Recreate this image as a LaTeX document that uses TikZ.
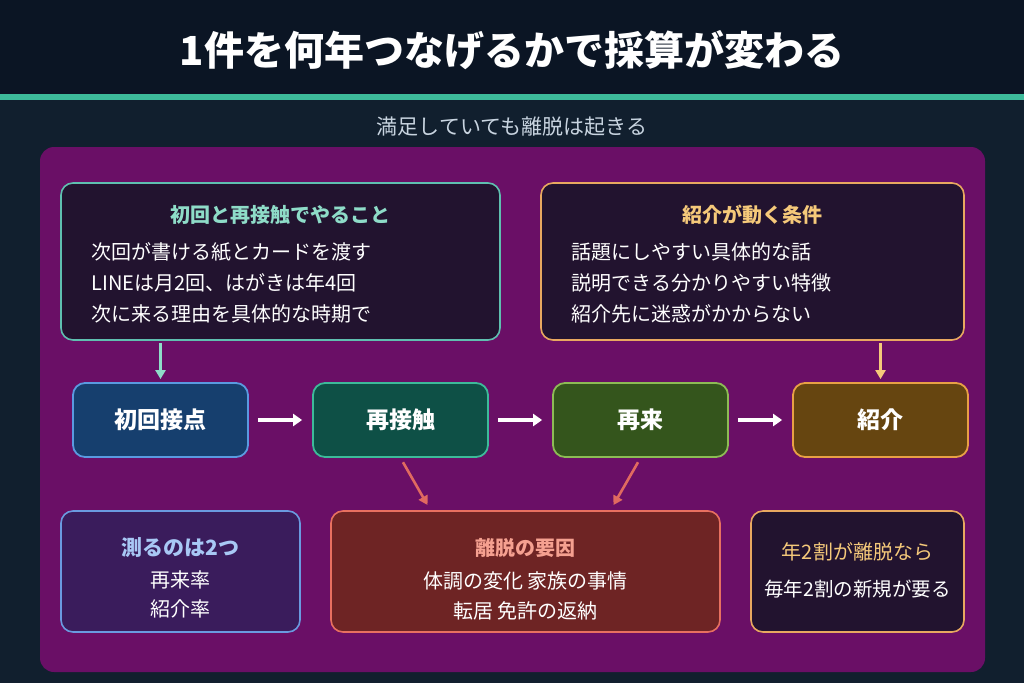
\documentclass[tikz,border=0pt]{standalone}
\usepackage{fontspec}
\setmainfont{Noto Sans CJK JP}
\usepackage{tikz}
\usetikzlibrary{arrows.meta, positioning, calc}

\definecolor{bgtop}{HTML}{0B1524}
\definecolor{bgmain}{HTML}{111F2E}
\definecolor{tealline}{HTML}{3DBA9A}
\definecolor{subgray}{HTML}{C8D4E0}
\definecolor{panel}{HTML}{6A0F66}
\definecolor{darkbox}{HTML}{22132F}
\definecolor{tealbd}{HTML}{5FBFB0}
\definecolor{tealtx}{HTML}{8EDCC8}
\definecolor{orangebd}{HTML}{E8A860}
\definecolor{orangetx}{HTML}{F5C97A}
\definecolor{firstfill}{HTML}{163F6E}
\definecolor{firstbd}{HTML}{5A9AE0}
\definecolor{againfill}{HTML}{0E5046}
\definecolor{againbd}{HTML}{3DBA9A}
\definecolor{backfill}{HTML}{34551C}
\definecolor{backbd}{HTML}{8DBB55}
\definecolor{refffill}{HTML}{664510}
\definecolor{reffbd}{HTML}{E8A045}
\definecolor{measfill}{HTML}{3A1C5C}
\definecolor{measbd}{HTML}{6A9AE0}
\definecolor{meastx}{HTML}{A8C8F5}
\definecolor{lossfill}{HTML}{6E2424}
\definecolor{lossbd}{HTML}{E87060}
\definecolor{losstx}{HTML}{F5A090}
\definecolor{lossarr}{HTML}{E06A60}

\begin{document}
\begin{tikzpicture}[
    x=1pt, y=-1pt,
    infobox/.style={draw, line width=1.6pt, rounded corners=12pt, fill=darkbox, inner sep=0pt},
    stagebox/.style={draw, line width=1.8pt, rounded corners=12pt, minimum width=175pt, minimum height=74pt,
        inner sep=0pt, text=white, font=\fontsize{23}{26}\selectfont\bfseries},
    boxtitle/.style={font=\fontsize{20}{23}\selectfont\bfseries},
    boxbody/.style={text=white, align=left, anchor=west, font=\fontsize{20}{31}\selectfont},
    flow/.style={-{Triangle[length=9pt, width=12pt]}, line width=3.5pt, white, shorten <=9pt, shorten >=10pt},
    drop/.style={-{Triangle[length=9pt, width=10pt]}, line width=2.6pt},
]

% background and title band
\fill[bgmain] (0,0) rectangle (1024,683);
\fill[bgtop] (0,0) rectangle (1024,95);
\fill[tealline] (0,94) rectangle (1024,100);
\node[text=white, font=\fontsize{40}{44}\selectfont\bfseries] (title) at (512,50) {1件を何年つなげるかで採算が変わる};
\node[text=subgray, font=\fontsize{21}{24}\selectfont] (sub) at (512,127) {満足していても離脱は起きる};

\fill[panel, rounded corners=14pt] (40,147) rectangle (985,672);

% top info boxes
\node[infobox, draw=tealbd, minimum width=439pt, minimum height=157pt] (todo) at (280.5,261.5) {};
\node[boxtitle, text=tealtx] (todot) at (280.5,215) {初回と再接触でやること};
\node[boxbody] (todob) at (88,282.5) {次回が書ける紙とカードを渡す\\LINEは月2回、はがきは年4回\\次に来る理由を具体的な時期で};

\node[infobox, draw=orangebd, minimum width=423pt, minimum height=157pt] (cond) at (752.5,261.5) {};
\node[boxtitle, text=orangetx] (condt) at (752.5,215) {紹介が動く条件};
\node[boxbody] (condb) at (568,282.5) {話題にしやすい具体的な話\\説明できる分かりやすい特徴\\紹介先に迷惑がかからない};

% stages
\node[stagebox, fill=firstfill, draw=firstbd] (first) at (160.5,420) {初回接点};
\node[stagebox, fill=againfill, draw=againbd] (again) at (400.5,420) {再接触};
\node[stagebox, fill=backfill, draw=backbd] (back) at (640.5,420) {再来};
\node[stagebox, fill=refffill, draw=reffbd] (refer) at (880.5,420) {紹介};

\draw[flow] (first) -- (again);
\draw[flow] (again) -- (back);
\draw[flow] (back)  -- (refer);

\draw[drop, tealtx, shorten <=2pt, shorten >=3pt] (todo.south -| first) -- (first.north);
\draw[drop, orangetx, shorten <=2pt, shorten >=3pt] (cond.south -| refer) -- (refer.north);

% bottom boxes
\node[infobox, draw=measbd, fill=measfill, minimum width=239pt, minimum height=121pt] (meas) at (180.5,571.5) {};
\node[boxtitle, text=meastx, font=\fontsize{21}{24}\selectfont\bfseries] (meast) at (180.5,548) {測るのは2つ};
\node[text=white, align=center, font=\fontsize{20}{29}\selectfont] (measb) at (180.5,594.5) {再来率\\紹介率};

\node[infobox, draw=lossbd, fill=lossfill, minimum width=389pt, minimum height=121pt] (loss) at (525.5,571.5) {};
\node[boxtitle, text=losstx] (losst) at (525.5,548) {離脱の要因};
\node[text=white, align=center, font=\fontsize{20}{30}\selectfont] (lossb) at (525.5,596) {体調の変化 家族の事情\\転居 免許の返納};

\node[infobox, draw=orangebd, minimum width=213pt, minimum height=121pt] (need) at (857.5,571.5) {};
\node[text=orangetx, font=\fontsize{20}{23}\selectfont] (needt) at (857.5,552) {年2割が離脱なら};
\node[text=white, font=\fontsize{19.5}{23}\selectfont] (needb) at (857.5,589) {毎年2割の新規が要る};

\draw[drop, lossarr, shorten <=5pt, shorten >=6pt] (again.south) -- ([xshift=-95pt]loss.north);
\draw[drop, lossarr, shorten <=5pt, shorten >=6pt] (back.south) -- ([xshift=85pt]loss.north);

\end{tikzpicture}
\end{document}
